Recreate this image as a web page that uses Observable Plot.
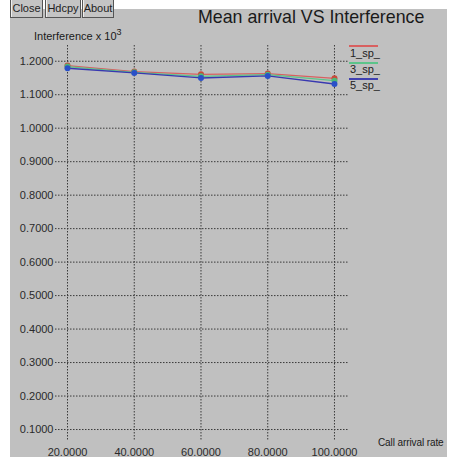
<!DOCTYPE html>
<html>
<head>
<meta charset="utf-8">
<script src="https://cdn.jsdelivr.net/npm/d3@7"></script>
<script src="https://cdn.jsdelivr.net/npm/@observablehq/plot@0.6"></script>
<style>
  html, body { margin: 0; padding: 0; background: #fff; }
  #wrap { position: relative; width: 449px; height: 457px; overflow: hidden; background: #fff; font-family: "Liberation Sans", Arial, sans-serif; }
  #gray { position: absolute; left: 10px; top: 9px; width: 437px; height: 448px; background: #c0c0c0; }
  #chart { position: absolute; left: 0; top: 0; }
  .btn { position: absolute; top: -8px; height: 26px; background: #c4c4c4; border: 1px solid #555; box-shadow: inset 1px 1px 0 #eee; font-size: 11px; color: #222; line-height: 12px; text-align: center; padding-top: 9px; box-sizing: border-box; overflow: hidden; }
  .txt { position: absolute; color: #1a1a1a; white-space: nowrap; }
  .leg { position: absolute; left: 349px; width: 29px; height: 0; }
  .legt { position: absolute; left: 350px; font-size: 11px; color: #222; }
</style>
</head>
<body>
<div id="wrap">
  <div id="gray"></div>
  <div class="btn" style="left:10px;width:33px;">Close</div>
  <div class="btn" style="left:45px;width:36px;">Hdcpy</div>
  <div class="btn" style="left:82px;width:32px;">About</div>
  <div id="chart"></div>
  <div class="txt" style="left:198px;top:7px;font-size:17.8px;">Mean arrival VS Interference</div>
  <div class="txt" style="left:34px;top:27px;font-size:11px;">Interference x 10<sup style="font-size:9px;vertical-align:5px;">3</sup></div>
  <div class="txt" style="left:378px;top:437px;font-size:10px;letter-spacing:-0.1px;">Call arrival rate</div>
  <div class="leg" style="top:45px;border-top:2px solid #d86060;"></div>
  <div class="legt" style="top:47px;">1_sp_</div>
  <div class="leg" style="top:62px;border-top:2px solid #5cc48a;"></div>
  <div class="legt" style="top:63px;">3_sp_</div>
  <div class="leg" style="top:78px;border-top:2px solid #4040b0;"></div>
  <div class="legt" style="top:79px;">5_sp_</div>
</div>
<script>
const rates = [20, 40, 60, 80, 100];
const sp1 = [1.187, 1.169, 1.161, 1.163, 1.149];
const sp3 = [1.184, 1.167, 1.155, 1.160, 1.142];
const sp5 = [1.179, 1.165, 1.150, 1.156, 1.132];
const seriesNames = ["1_sp_", "3_sp_", "5_sp_"];
const seriesColors = ["#d86060", "#5cc48a", "#3838b0"];
const dotColors = ["#c84a3a", "#4cb878", "#2a50c8"];
const yTicks = [0.1, 0.2, 0.3, 0.4, 0.5, 0.6, 0.7, 0.8, 0.9, 1.0, 1.1, 1.2];
const xTicks = [20, 40, 60, 80, 100];

const all = [sp1, sp3, sp5];
const data = [];
all.forEach((vals, i) => vals.forEach((v, j) => data.push({series: seriesNames[i], rate: rates[j], value: v})));

const chart = Plot.plot({
  width: 449,
  height: 457,
  marginLeft: 55,
  marginRight: 101,
  marginTop: 45,
  marginBottom: 17,
  style: { background: "transparent", fontFamily: "Liberation Sans, Arial, sans-serif", fontSize: "11px", color: "#2a2a2a" },
  x: { domain: [16.4, 104.2] },
  y: { domain: [0.0672, 1.247] },
  color: { domain: seriesNames, range: seriesColors },
  marks: [
    Plot.gridY(yTicks, { stroke: "#3a3a3a", strokeOpacity: 1, strokeDasharray: "1.5,1.5" }),
    Plot.gridX(xTicks, { stroke: "#3a3a3a", strokeOpacity: 1, strokeDasharray: "1.5,1.5" }),
    Plot.axisY(yTicks, { tickFormat: d3.format(".4f"), tickSize: 0, tickPadding: 2, label: null, fill: "#2a2a2a" }),
    Plot.axisX(xTicks, { tickFormat: d3.format(".4f"), tickSize: 0, tickPadding: 8, label: null, fill: "#2a2a2a" }),
    Plot.line(data, { x: "rate", y: "value", z: "series", stroke: "series", strokeWidth: 1.3 }),
    Plot.dot(data, { x: "rate", y: "value", fill: d => dotColors[seriesNames.indexOf(d.series)], r: 3 })
  ]
});
document.getElementById("chart").appendChild(chart);
</script>
</body>
</html>
